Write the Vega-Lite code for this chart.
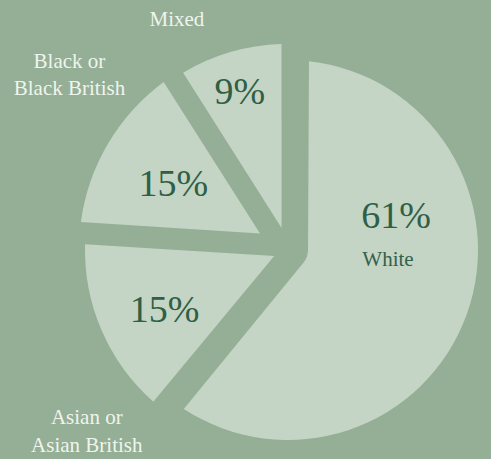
{
  "$schema": "https://vega.github.io/schema/vega-lite/v6.json",
  "width": 406,
  "height": 418,
  "padding": {"left": 85, "top": 41, "right": 0, "bottom": 0},
  "autosize": {"type": "none"},
  "background": "#95ae96",
  "config": {"view": {"stroke": null}, "text": {"font": "Liberation Serif"}},
  "data": {
    "values": [
      {"group": "White", "label": "White", "share": 0.61},
      {"group": "Asian", "label": "Asian or\nAsian British", "share": 0.15},
      {"group": "Black", "label": "Black or\nBlack British", "share": 0.15},
      {"group": "Mixed", "label": "Mixed", "share": 0.09}
    ]
  },
  "transform": [{"stack": "share", "groupby": [], "as": ["t0", "t1"]}],
  "encoding": {
    "theta": {"field": "t0", "type": "quantitative", "stack": null, "scale": {"domain": [0, 1]}}
  },
  "layer": [
    {
      "transform": [{"filter": "datum.group === 'White'"}],
      "mark": {"type": "arc", "innerRadius": 20, "outerRadius": 190, "padAngle": 0.2201, "fill": "#c4d5c5"},
      "encoding": {"theta2": {"field": "t1"}}
    },
    {
      "transform": [{"filter": "datum.group === 'Asian'"}],
      "mark": {"type": "arc", "innerRadius": 15, "outerRadius": 203, "padAngle": 0.0688, "fill": "#c4d5c5"},
      "encoding": {"theta2": {"field": "t1"}}
    },
    {
      "transform": [{"filter": "datum.group === 'Black'"}],
      "mark": {"type": "arc", "innerRadius": 32.5, "outerRadius": 209, "padAngle": 0.142, "fill": "#c4d5c5"},
      "encoding": {"theta2": {"field": "t1"}}
    },
    {
      "transform": [{"filter": "datum.group === 'Mixed'"}],
      "mark": {"type": "arc", "innerRadius": 23, "outerRadius": 206, "padAngle": 0.0627, "fill": "#c4d5c5"},
      "encoding": {"theta2": {"field": "t1"}}
    },
    {
      "transform": [{"filter": "datum.group === 'White'"}],
      "mark": {"type": "text", "radius": 34, "dx": 108, "dy": 1, "fontSize": 38, "fill": "#2f5f45", "align": "center", "baseline": "middle"},
      "encoding": {"text": {"field": "share", "type": "quantitative", "format": ".0%"}}
    },
    {
      "transform": [{"filter": "datum.group === 'White'"}],
      "mark": {"type": "text", "radius": 34, "dx": 100, "dy": 44, "fontSize": 21, "fill": "#35604a", "align": "center", "baseline": "middle"},
      "encoding": {"text": {"field": "label", "type": "nominal"}}
    },
    {
      "transform": [{"filter": "datum.group === 'Asian'"}],
      "mark": {"type": "text", "radius": 126, "dx": -43, "dy": -36, "fontSize": 38, "fill": "#2f5f45", "align": "center", "baseline": "middle"},
      "encoding": {"text": {"field": "share", "type": "quantitative", "format": ".0%"}}
    },
    {
      "transform": [{"filter": "datum.group === 'Black'"}],
      "mark": {"type": "text", "radius": 118, "dx": 3, "dy": -58, "fontSize": 38, "fill": "#2f5f45", "align": "center", "baseline": "middle"},
      "encoding": {"text": {"field": "share", "type": "quantitative", "format": ".0%"}}
    },
    {
      "transform": [{"filter": "datum.group === 'Mixed'"}],
      "mark": {"type": "text", "radius": 159, "dx": 37, "dy": -23, "fontSize": 38, "fill": "#2f5f45", "align": "center", "baseline": "middle"},
      "encoding": {"text": {"field": "share", "type": "quantitative", "format": ".0%"}}
    },
    {
      "transform": [{"filter": "datum.group === 'Mixed'"}],
      "mark": {"type": "text", "radius": 254, "dx": 25, "dy": -16, "fontSize": 21, "fill": "#eef5ec", "align": "center", "baseline": "middle"},
      "encoding": {"text": {"field": "label", "type": "nominal"}}
    },
    {
      "transform": [{"filter": "datum.group === 'Black'"}],
      "mark": {"type": "text", "radius": 229, "dx": 10, "dy": -174, "fontSize": 21, "lineHeight": 27, "lineBreak": "\n", "fill": "#eef5ec", "align": "center", "baseline": "middle"},
      "encoding": {"text": {"field": "label", "type": "nominal"}}
    },
    {
      "transform": [{"filter": "datum.group === 'Asian'"}],
      "mark": {"type": "text", "radius": 267, "dx": -31, "dy": -38, "fontSize": 21, "lineHeight": 28, "lineBreak": "\n", "fill": "#eef5ec", "align": "center", "baseline": "middle"},
      "encoding": {"text": {"field": "label", "type": "nominal"}}
    }
  ]
}
